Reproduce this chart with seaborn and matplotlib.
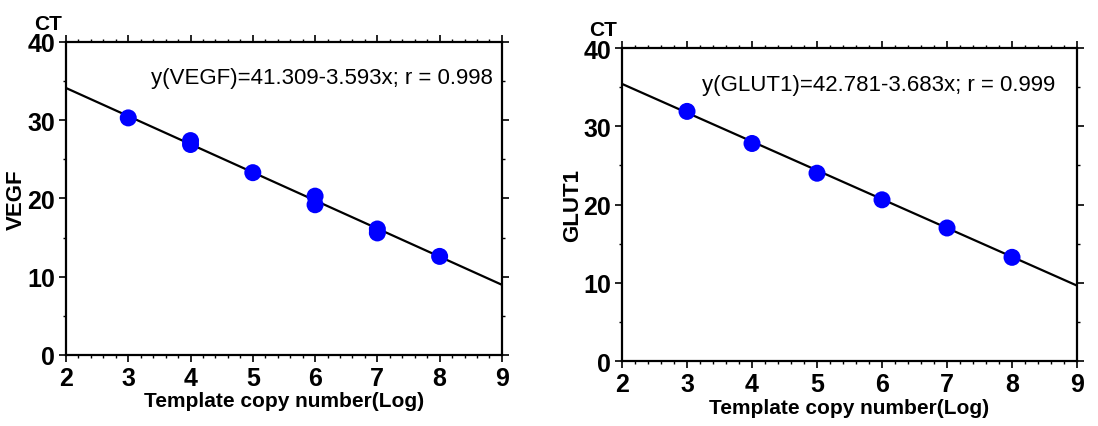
import numpy as np
import pandas as pd
import seaborn as sns
from matplotlib import pyplot as plt
from matplotlib.ticker import MultipleLocator

sns.set_style('white')
plt.rcParams['font.family'] = ['Liberation Sans', 'DejaVu Sans']
plt.rcParams['text.color'] = 'black'
plt.rcParams['axes.labelcolor'] = 'black'
plt.rcParams['xtick.color'] = 'black'
plt.rcParams['ytick.color'] = 'black'

# points
vegf_x = [3, 4, 4, 5, 6, 6, 7, 7, 8]
vegf_ct = [30.3, 27.4, 26.9, 23.3, 20.3, 19.2, 16.1, 15.6, 12.6]
glut1_x = [3, 4, 5, 6, 7, 8]
glut1_ct = [31.9, 27.8, 24.0, 20.6, 17.0, 13.25]

# fitted lines as printed in the chart
vegf_fit = (41.309, -3.593)
glut1_fit = (42.781, -3.683)
x_range = [2, 9]

panels = [
    dict(gene='VEGF', x=vegf_x, y=vegf_ct, fit=vegf_fit, r='0.998',
         pos=[0.0601, 0.1663, 0.397, 0.733], eq_x=0.195),
    dict(gene='GLUT1', x=glut1_x, y=glut1_ct, fit=glut1_fit, r='0.999',
         pos=[0.5665, 0.1522, 0.4144, 0.733], eq_x=0.175),
]

fig = plt.figure(figsize=(10.98, 4.27), dpi=100)

for p in panels:
    ax = fig.add_axes(p['pos'])
    b0, b1 = p['fit']
    line = pd.DataFrame({'x': x_range, 'y': [b0 + b1 * v for v in x_range]})
    sns.lineplot(data=line, x='x', y='y', color='black', lw=1.6, ax=ax, zorder=2)
    pts = pd.DataFrame({'x': p['x'], 'y': p['y']})
    sns.scatterplot(data=pts, x='x', y='y', color='#0000ff', s=150, edgecolor='none', ax=ax, zorder=3)

    ax.set_xlim(2, 9)
    ax.set_ylim(0, 40)
    ax.xaxis.set_major_locator(MultipleLocator(1))
    ax.xaxis.set_minor_locator(MultipleLocator(0.2))
    ax.yaxis.set_major_locator(MultipleLocator(10))
    ax.yaxis.set_minor_locator(MultipleLocator(5))
    ax.tick_params(which='both', direction='out', top=True, right=True, bottom=True, left=True,
                   labeltop=False, labelright=False, color='black')
    ax.tick_params(which='major', length=5, width=1.2, labelsize=18, pad=3)
    ax.tick_params(which='minor', length=2.5, width=1)
    for lab in ax.get_xticklabels() + ax.get_yticklabels():
        lab.set_fontweight('bold')
    for s in ax.spines.values():
        s.set_visible(True)
        s.set_color('black')
        s.set_linewidth(1.6)

    ax.set_xlabel('Template copy number(Log)', fontsize=15, fontweight='bold', labelpad=1)
    ax.set_ylabel(p['gene'], fontsize=16, fontweight='bold', labelpad=0)
    ax.text(-0.072, 1.03, 'CT', transform=ax.transAxes, fontsize=15, fontweight='bold',
            ha='left', va='bottom')
    eq = 'y(%s)=%.3f-%.3fx; r = %s' % (p['gene'], b0, -b1, p['r'])
    ax.text(p['eq_x'], 0.885, eq, transform=ax.transAxes, fontsize=16, ha='left', va='center')

plt.savefig('out.png', dpi=100)
